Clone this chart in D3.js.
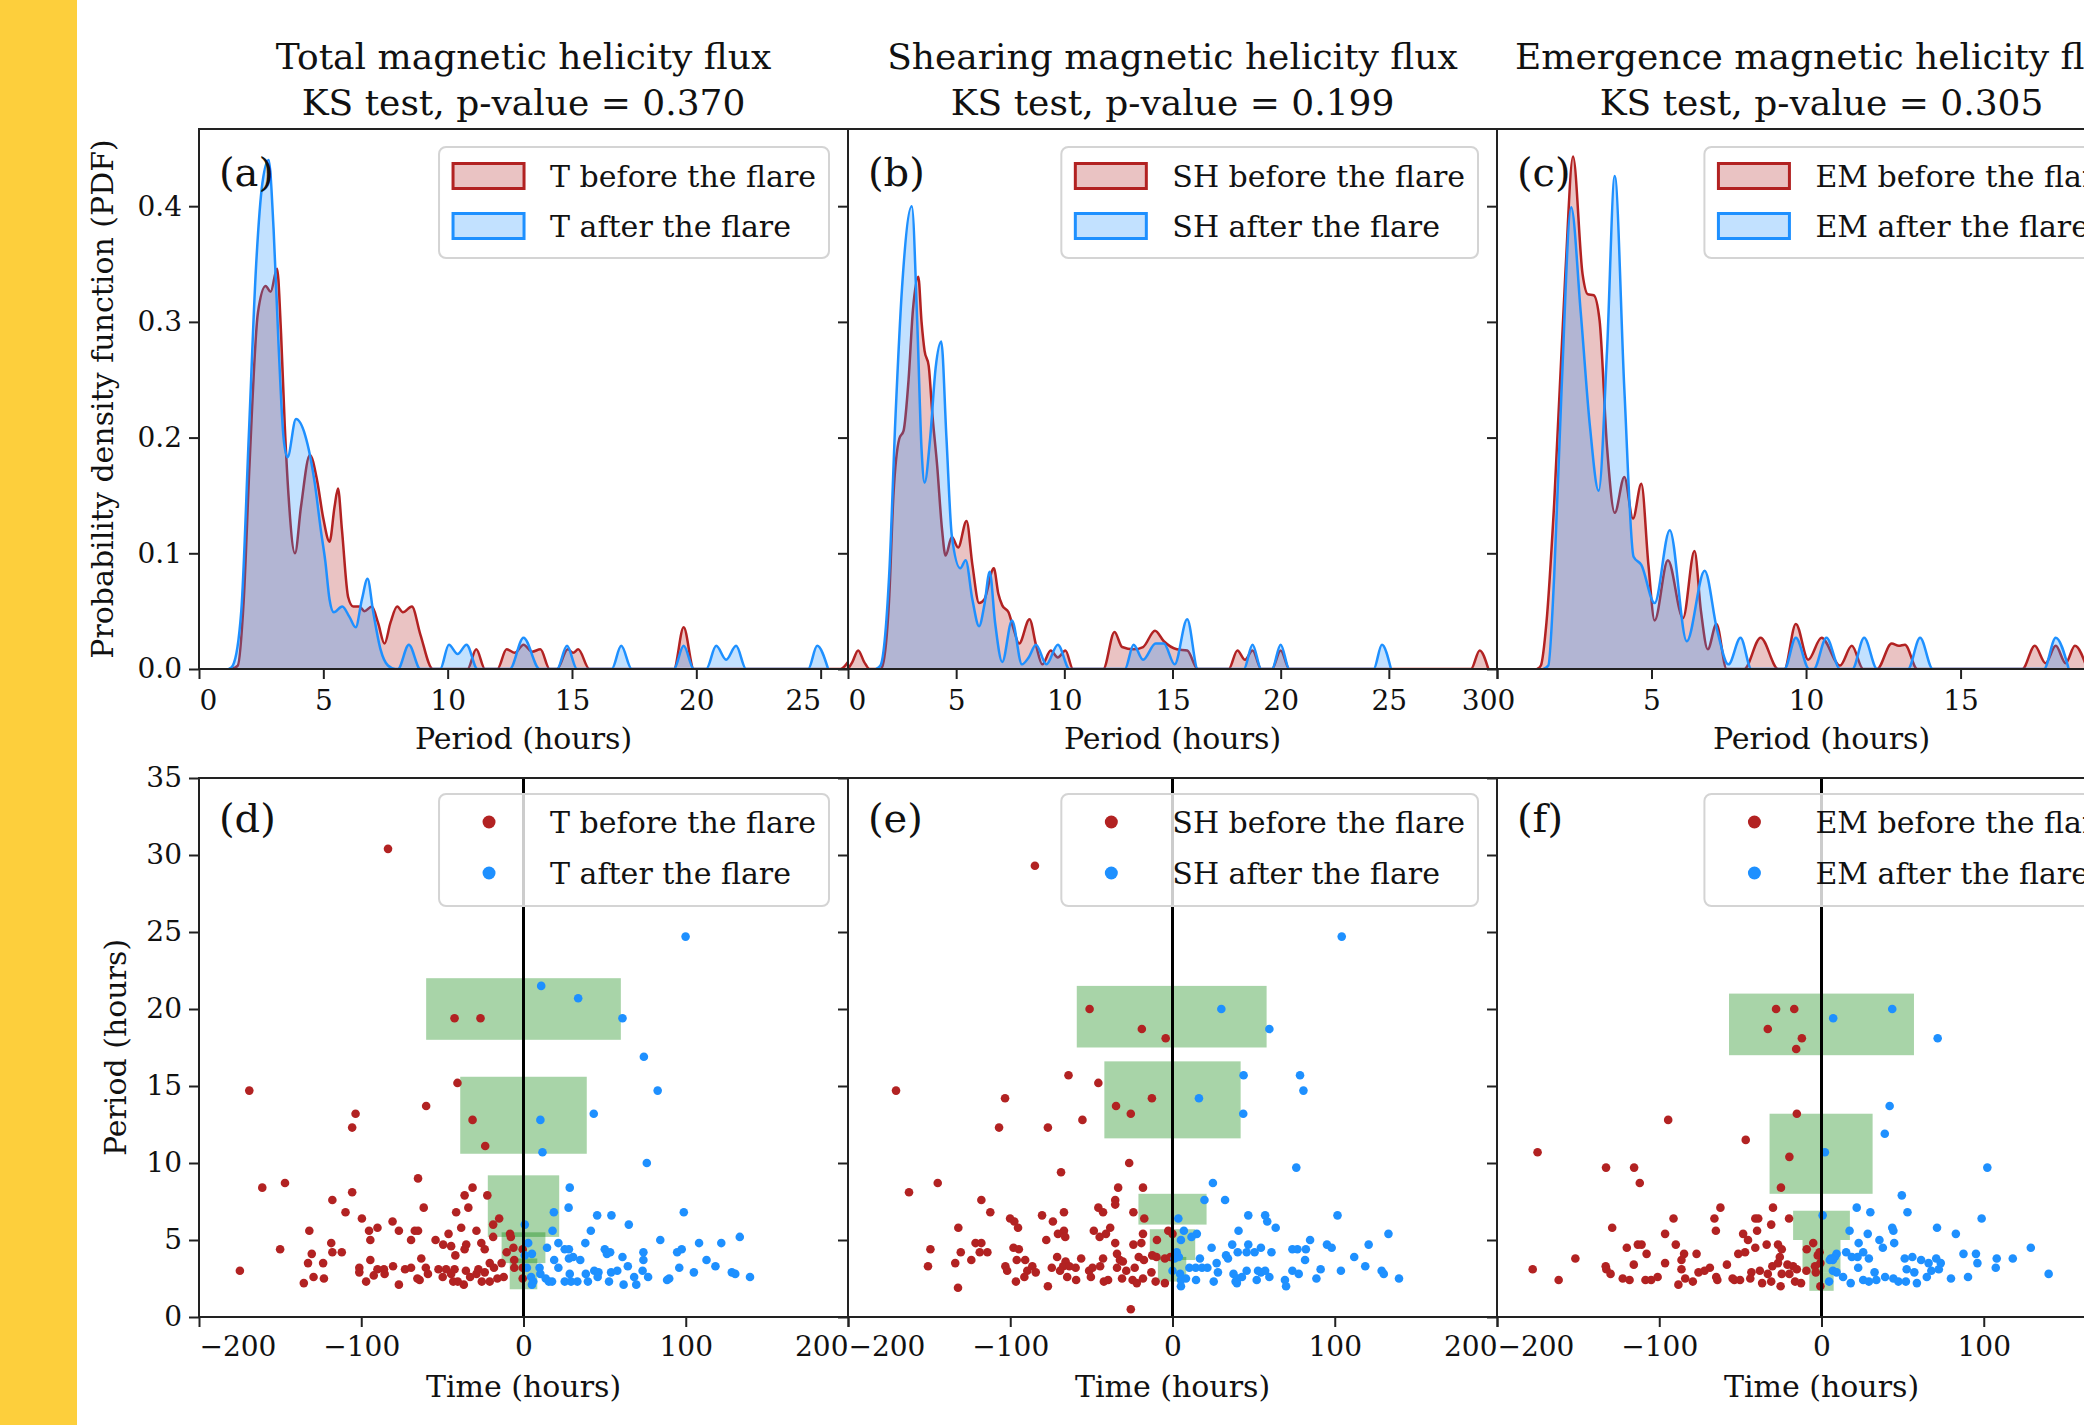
<!DOCTYPE html>
<html>
<head>
<meta charset="utf-8">
<title>Helicity flux oscillation periods</title>
<script src="https://d3js.org/d3.v7.min.js"></script>
<style>
  body { margin: 0; background: #fff; }
  svg { display: block; font-family: "DejaVu Serif", serif; }
</style>
</head>
<body>
<svg id="chart" width="2084" height="1425"></svg>
<script>
// ---- text ----
const titles = ["Total magnetic helicity flux", "Shearing magnetic helicity flux", "Emergence magnetic helicity flux"];
const pValues = ["0.370", "0.199", "0.305"];
const prefixes = ["T", "SH", "EM"];
const topLetters = ["(a)", "(b)", "(c)"];
const botLetters = ["(d)", "(e)", "(f)"];

// ---- axis ticks ----
const periodMax = [26.1, 30, 21];
const pdfTicks = [0, 0.1, 0.2, 0.3, 0.4];
const periodTicks = [0, 5, 10, 15, 20, 25, 30, 35];
const timeTicks = [-200, -100, 0, 100, 200];

// ---- PDF curves: [period, density] ----
const pdfTBefore = [[1.3,0],[1.56,0.003],[1.8,0.06],[2.03,0.176],[2.37,0.308],[2.68,0.331],[2.88,0.326],[3.14,0.346],[3.3,0.29],[3.45,0.21],[3.6,0.15],[3.86,0.1],[4.1,0.14],[4.46,0.185],[4.75,0.163],[5.0,0.13],[5.25,0.11],[5.45,0.14],[5.59,0.156],[5.75,0.12],[6.0,0.062],[6.2,0.054],[6.45,0.054],[6.65,0.05],[6.95,0.054],[7.2,0.04],[7.46,0.022],[7.7,0.04],[7.97,0.054],[8.2,0.049],[8.56,0.054],[8.9,0.03],[9.4,0],
  [10.8,0],[11.15,0.017],[11.5,0],[12.0,0],[12.37,0.017],[12.7,0.014],[13.05,0.021],[13.4,0.015],[13.73,0.017],[14.1,0],[14.4,0],[14.83,0.017],[15.05,0.014],[15.25,0.017],[15.7,0],[19.1,0],[19.49,0.036],[19.9,0],[25.8,0],[26.1,0.006]];
const pdfTAfter = [[1.2,0],[1.36,0.003],[1.7,0.05],[2.0,0.2],[2.3,0.35],[2.55,0.42],[2.8,0.44],[3.0,0.38],[3.2,0.28],[3.4,0.2],[3.56,0.183],[3.9,0.216],[4.27,0.202],[4.66,0.16],[4.9,0.12],[5.08,0.093],[5.25,0.06],[5.42,0.049],[5.76,0.054],[6.05,0.045],[6.3,0.036],[6.55,0.06],[6.78,0.078],[7.0,0.05],[7.3,0.017],[7.6,0.003],[7.9,0],
  [8.0,0],[8.44,0.021],[8.9,0],[9.7,0],[10.05,0.021],[10.4,0.013],[10.76,0.021],[11.2,0],[12.5,0],[13.05,0.027],[13.7,0],[14.4,0],[14.8,0.02],[15.2,0],[16.6,0],[16.98,0.02],[17.4,0],[19.1,0],[19.49,0.02],[19.9,0],[20.4,0],[20.8,0.02],[21.2,0.008],[21.6,0.02],[22.0,0],[24.5,0],[24.86,0.02],[25.3,0]];
const pdfSHBefore = [[0,0],[0.2,0.006],[0.47,0.016],[0.75,0.006],[1.0,0],[1.5,0],[1.6,0.003],[1.9,0.06],[2.1,0.15],[2.37,0.199],[2.57,0.206],[2.8,0.25],[3.0,0.31],[3.25,0.339],[3.4,0.3],[3.54,0.275],[3.73,0.262],[3.9,0.22],[4.12,0.176],[4.35,0.12],[4.51,0.098],[4.8,0.114],[5.09,0.105],[5.48,0.128],[5.75,0.09],[6.06,0.057],[6.3,0.06],[6.74,0.087],[6.95,0.065],[7.13,0.055],[7.42,0.049],[7.65,0.035],[7.91,0.022],[8.39,0.043],[8.7,0.02],[8.98,0.004],[9.37,0.016],[9.7,0.01],[10.05,0.016],[10.4,0],
  [11.8,0],[12.32,0.032],[12.67,0.019],[13.2,0.017],[13.64,0.019],[14.19,0.033],[14.6,0.024],[15.2,0.017],[15.68,0.016],[16.17,0],[17.6,0],[18.0,0.016],[18.35,0.008],[18.7,0.016],[19.1,0],[19.6,0],[20.0,0.016],[20.4,0],[28.8,0],[29.2,0.016],[29.6,0]];
const pdfSHAfter = [[1.3,0],[1.5,0.003],[1.9,0.08],[2.2,0.22],[2.5,0.33],[2.95,0.4],[3.2,0.3],[3.4,0.19],[3.54,0.161],[3.8,0.2],[4.05,0.26],[4.31,0.283],[4.55,0.2],[4.8,0.115],[5.19,0.087],[5.44,0.094],[5.75,0.06],[6.06,0.037],[6.3,0.055],[6.55,0.084],[6.8,0.04],[7.13,0.006],[7.58,0.042],[8.04,0.004],[8.35,0.01],[8.69,0.021],[9.17,0.004],[9.7,0.021],[10.24,0],
  [12.8,0],[13.2,0.021],[13.64,0.008],[14.22,0.022],[14.6,0.022],[15.1,0.004],[15.68,0.043],[16.17,0],[18.3,0],[18.7,0.021],[19.1,0],[19.6,0],[20.0,0.021],[20.4,0],[24.3,0],[24.68,0.021],[25.1,0]];
const pdfEMBefore = [[1.3,0],[1.42,0.003],[1.6,0.04],[1.85,0.143],[2.21,0.341],[2.46,0.443],[2.77,0.341],[2.93,0.324],[3.13,0.323],[3.32,0.301],[3.56,0.192],[3.81,0.135],[4.12,0.166],[4.4,0.13],[4.67,0.16],[4.9,0.09],[5.1,0.042],[5.53,0.094],[6.02,0.044],[6.39,0.102],[6.6,0.05],[6.82,0.017],[7.1,0.039],[7.43,0],
  [8.0,0],[8.53,0.027],[9.1,0],[9.3,0],[9.67,0.039],[10.07,0.008],[10.5,0.027],[11.1,0.003],[11.48,0.02],[11.85,0],[12.3,0],[12.77,0.022],[13.0,0.02],[13.2,0.021],[13.6,0],[17.0,0],[17.4,0.02],[17.75,0.005],[18.08,0.02],[18.4,0.005],[18.7,0.02],[19.1,0]];
const pdfEMAfter = [[1.5,0],[1.66,0.003],[1.85,0.08],[2.09,0.242],[2.4,0.399],[2.71,0.308],[3.01,0.209],[3.29,0.154],[3.56,0.275],[3.81,0.426],[4.12,0.242],[4.42,0.097],[4.67,0.09],[5.1,0.057],[5.59,0.12],[6.14,0.024],[6.72,0.085],[7.12,0.034],[7.49,0.004],[7.88,0.027],[8.23,0],
  [9.3,0],[9.67,0.027],[10.1,0],[10.25,0],[10.66,0.027],[11.1,0],[11.5,0],[11.88,0.027],[12.3,0],[13.3,0],[13.69,0.027],[14.1,0],[17.7,0],[18.08,0.027],[18.5,0]];

// ---- scatter points: [time, period] ----
const ptsTBefore = [[-83.5,30.4],[-42.5,19.4],[-26.5,19.4],[-169,14.7],[-40.7,15.2],[-60,13.7],[-103.5,13.2],[-105.6,12.3],[-31.4,12.8],[-23.6,11.1],[-65,9.0],[-161,8.4],[-147,8.7],[-105.6,8.1],[-31.4,8.4],[-36.3,7.9],[-22.3,7.9],[-117.8,7.6],[-61.5,7.1],[-34,7.1],[-109.7,6.8],[-41.5,6.8],[-99.6,6.4],[-80.7,6.2],[-15,6.4],[-18.7,6.0],[-132,5.6],[-95.2,5.6],[-90,5.8],[-76.8,5.6],[-67,5.6],[-65,5.6],[-38.4,5.8],[-29,5.6],[-150,4.4],[-118.5,4.8],[-94.4,5.0],[-69.3,5.0],[-54.2,5.0],[-46.2,5.4],[-49.5,4.7],[-44.6,4.6],[-35.3,4.7],[-26,4.8],[-18.7,5.2],[-8.3,5.4],[-7.8,5.2],[-117.8,4.2],[-112,4.2],[-130.5,4.1],[-42,4.0],[-36.3,4.4],[-23.9,4.4],[-10.4,4.2],[-6.2,4.5],[-0.5,4.4],[-132.8,3.5],[-123.5,3.5],[-94.4,3.7],[-63,3.8],[-20.8,3.5],[-13.5,3.5],[-18.2,3.2],[-174.8,3.0],[-101.2,3.2],[-90,3.1],[-86,3.1],[-80.4,3.3],[-73,3.1],[-69.3,3.2],[-60.2,3.2],[-52.4,3.1],[-47.7,3.1],[-42.5,3.1],[-35.5,3.0],[-27.8,3.1],[-23.9,2.9],[-5.7,3.2],[-0.5,3.2],[-129.4,2.6],[-123,2.5],[-101.2,2.9],[-92.3,2.7],[-85.6,2.8],[-65.4,2.5],[-58.9,2.8],[-49.8,2.6],[-44.6,2.8],[-32.9,2.6],[-29,2.8],[-12.2,2.6],[-16.1,2.5],[-0.5,2.5],[-135.4,2.2],[-97,2.3],[-76.8,2.1],[-64,2.4],[-43.3,2.3],[-36.8,2.1],[-25.7,2.3],[-20.8,2.3],[-40.5,2.3],[-5.7,3.7]];
const ptsTAfter = [[99.9,24.7],[10.9,21.5],[33.7,20.7],[61,19.4],[74.2,16.9],[82.7,14.7],[43.3,13.2],[10.4,12.8],[11.7,10.7],[76,10.0],[28.5,8.4],[27.8,7.1],[18.7,6.8],[45.4,6.6],[54.2,6.6],[98.8,6.8],[64.9,6.0],[41.5,5.6],[17.9,5.6],[0.8,6.0],[84.3,5.0],[133.3,5.2],[108.2,4.8],[121.9,4.8],[97.5,4.4],[94.7,4.2],[2.9,4.8],[14.5,4.5],[21.5,4.8],[25.4,4.4],[28,4.4],[38.1,4.8],[50.1,4.4],[51.4,4.1],[53.4,4.2],[73.9,4.2],[0.8,4.0],[5.2,4.1],[18.9,3.7],[28,3.8],[30.6,3.9],[35,3.7],[61,3.9],[73.9,3.7],[112.8,3.7],[118.3,3.3],[2.1,3.2],[9.9,3.2],[21.5,3.2],[64.3,3.3],[96,3.2],[73.4,3.0],[4.7,2.6],[10.4,2.8],[13.7,2.5],[28.5,2.8],[38.4,2.8],[43.6,3.0],[46.2,2.9],[54,2.9],[57.8,3.0],[68.2,2.6],[76.8,2.6],[105,2.9],[128.4,2.9],[130.5,2.8],[139.6,2.6],[89.8,2.5],[88.5,2.4],[6,2.3],[17.6,2.3],[25.4,2.3],[29.3,2.3],[33.2,2.3],[39.7,2.3],[45.7,2.6],[52.7,2.3],[61.7,2.1],[69.5,2.1],[5.2,2.1],[15.6,2.3]];
const ptsSHBefore = [[-84.8,29.3],[-51.1,20.0],[-18.9,18.7],[-4.2,18.1],[-64.1,15.7],[-45.7,15.2],[-12.7,14.2],[-34.8,13.7],[-25.7,13.2],[-55.5,12.8],[-170.4,14.7],[-103.2,14.2],[-106.9,12.3],[-76.8,12.3],[-26.7,10.0],[-68.7,9.4],[-144.7,8.7],[-162.4,8.1],[-33.5,8.4],[-18.2,8.4],[-117.8,7.6],[-35.3,7.6],[-35.3,7.3],[-112.3,6.8],[-66.9,6.8],[-45.7,7.1],[-42.8,6.8],[-24.1,6.8],[-17.4,6.4],[-80.4,6.6],[-100.1,6.4],[-97.5,6.2],[-73.7,6.2],[-95.2,5.8],[-132,5.8],[-38.4,5.8],[-48.5,5.6],[-66.9,5.6],[-70.6,5.4],[-66.1,5.2],[-44.9,5.2],[-41,5.4],[-18.2,5.4],[-2.6,5.6],[0,5.4],[-77.8,5.0],[-121.4,4.8],[-117.8,4.8],[-35.3,4.8],[-24.1,4.7],[-19.2,4.8],[-9.6,5.0],[-149.2,4.4],[-98,4.5],[-94.7,4.4],[-130.5,4.2],[-118.8,4.2],[-114.1,4.2],[-34.2,4.1],[-12.5,4.0],[-9.9,3.9],[-4.7,3.8],[-1.3,3.9],[-124,3.7],[-96,3.7],[-90.8,3.7],[-71.1,3.9],[-65.9,3.6],[-56.3,3.8],[-42.8,3.8],[-32.4,3.7],[-20.8,3.9],[-17.6,3.7],[-30.6,3.6],[-150.7,3.3],[-133.9,3.5],[-103,3.3],[-86.4,3.3],[-74.4,3.2],[-67.4,3.3],[-63.6,3.3],[-59.7,3.2],[-51.4,3.0],[-49.3,3.2],[-44.6,3.3],[-34.2,3.2],[-28.5,3.0],[-23.3,3.2],[-13,2.9],[-101.9,3.0],[-89.5,3.0],[-84.3,2.9],[-91.3,2.6],[-69.3,3.0],[-64.9,2.6],[-59.4,2.4],[-50.3,2.6],[-42.3,2.3],[-39.7,2.4],[-31.1,2.5],[-24.6,2.4],[-22,2.2],[-18.2,2.5],[-10.4,2.3],[-4.7,2.2],[-96.5,2.3],[-76.8,2.0],[-132.2,1.9],[-25.7,0.5]];
const ptsSHAfter = [[104.3,24.7],[30.1,20.0],[59.7,18.7],[43.8,15.7],[78.6,15.7],[80.7,14.7],[16.3,14.2],[43.6,13.2],[76.3,9.7],[24.9,8.7],[19.7,7.6],[32.4,7.6],[3.6,6.4],[46.7,6.6],[57.1,6.6],[58.4,6.2],[63.6,5.8],[40.7,5.6],[101.7,6.6],[7,5.6],[15,5.4],[11.7,5.2],[5.2,5.0],[84.8,5.0],[133.1,5.4],[120.9,4.7],[95.2,4.7],[98.1,4.5],[24.1,4.5],[36.8,4.7],[46.7,4.7],[54.5,4.5],[40.2,4.2],[45.7,4.2],[50.6,4.2],[61,4.2],[73.9,4.4],[77,4.4],[82.2,4.4],[33,4.0],[34.2,3.8],[2.6,4.2],[1.3,3.8],[3.9,3.9],[16.9,3.8],[27.2,3.5],[81.7,3.7],[112,3.9],[118.8,3.3],[0,3.0],[4.7,2.8],[10.4,3.2],[14.3,3.2],[18.2,3.2],[21.5,3.2],[28,2.9],[37.6,2.8],[45.7,3.0],[52.7,3.0],[54.5,2.9],[57.1,3.0],[73.9,3.0],[77.8,2.8],[91.3,3.1],[103.8,3.0],[128.9,3.0],[130.2,2.8],[5.2,2.4],[8.3,2.5],[14.5,2.4],[25.4,2.3],[38.9,2.3],[40.2,2.5],[42.8,2.6],[51.9,2.4],[59.7,2.6],[69.3,2.4],[70,2.0],[88.7,2.5],[139.6,2.5],[5.2,2.0],[39.7,2.2]];
const ptsEMBefore = [[-28,20.0],[-16.8,20.0],[-33.1,18.7],[-12.1,18.1],[-15.6,17.4],[-15.2,13.2],[-94.5,12.8],[-46.7,11.5],[-175,10.7],[-19.8,10.4],[-132.8,9.7],[-115.5,9.7],[-112,8.7],[-25,8.4],[-62.3,7.1],[-29.9,7.1],[-91.2,6.4],[-66,6.4],[-40.8,6.4],[-39,6.4],[-20,6.4],[-31,6.0],[-129,5.8],[-65.1,5.6],[-39.7,5.6],[-96.4,5.4],[-48.3,5.4],[-45.3,5.0],[-5.1,4.8],[-120,4.5],[-113.2,4.7],[-110.9,4.7],[-89.8,4.7],[-33.8,4.7],[-26.8,4.7],[-40.8,4.5],[-24.5,4.4],[-9.1,4.4],[-151.7,3.8],[-107.8,4.1],[-84.7,4.1],[-77,4.1],[-51.3,4.1],[-47.1,4.2],[-25.7,3.9],[-2.3,4.0],[-1.2,4.2],[-178,3.1],[-133,3.3],[-115.7,3.4],[-96.4,3.5],[-86.3,3.7],[-58.3,3.4],[-30.3,3.3],[-26.8,3.5],[-21,3.4],[-17.5,3.3],[-15.2,3.1],[-4,3.3],[-0.7,3.5],[-132.6,3.1],[-130,2.8],[-86.3,3.1],[-75.8,2.9],[-68.8,3.2],[-72.1,3.0],[-64.9,2.6],[-54.8,2.5],[-43.2,2.9],[-38,3.0],[-33.1,2.8],[-24.5,2.8],[-19.8,2.8],[-9.3,3.0],[-3.5,2.9],[-122.5,2.5],[-118.3,2.4],[-108.5,2.4],[-105,2.4],[-101,2.6],[-84,2.5],[-79.3,2.3],[-64.2,2.4],[-53.7,2.4],[-50.2,2.4],[-43.9,2.5],[-36.6,2.2],[-31,2.3],[-25.2,2.0],[-16.3,2.3],[-12.6,2.2],[-0.7,2.0],[-162,2.4],[-88.2,2.1]];
const ptsEMAfter = [[43.6,20.0],[7.2,19.4],[71.6,18.1],[42,13.7],[39,11.9],[2.1,10.7],[102.2,9.7],[49.5,7.9],[21.7,7.1],[30.1,6.8],[53,6.8],[0.7,6.6],[98.7,6.4],[17.3,5.6],[43.6,5.8],[44.3,5.6],[71.2,5.8],[82.8,5.4],[28.5,5.4],[35.7,5.0],[37.8,4.5],[44.8,4.8],[22.9,4.8],[129,4.5],[87.5,4.1],[95.2,4.1],[108,3.8],[117.9,3.8],[96.1,3.5],[107.4,3.2],[140,2.8],[15.2,4.2],[18.7,3.9],[22.2,3.9],[25.7,4.2],[29.2,3.8],[9.3,4.1],[8.2,3.9],[5.8,3.8],[7,3.7],[5.1,3.7],[51.3,3.8],[56,3.9],[61.4,3.7],[66,3.5],[70.7,3.8],[73.5,3.5],[72.3,3.1],[67.7,3.0],[52.5,3.1],[57.2,2.9],[7,3.0],[9.3,2.9],[13.3,2.6],[22.6,3.2],[32.7,2.9],[39.2,2.6],[64.9,2.6],[90.3,2.6],[4.7,2.3],[18,2.2],[25.7,2.4],[29.2,2.3],[33.8,2.4],[44.3,2.5],[47.4,2.3],[52,2.3],[58.8,2.2],[79.8,2.5]];

// ---- shaded boxes: [time0, time1, period0, period1] ----
const boxesT = [[-60,60,18,22],[-39,39,10.6,15.6],[-22,22,5.2,9.2],[-13.5,13.5,3.5,5.5],[-8.5,8.5,1.8,3.8]];
const boxesSH = [[-59,58,17.5,21.5],[-42,42,11.6,16.6],[-21,21,6.0,8.0],[-14,14,3.7,5.7],[-9,8.5,2.3,3.9]];
const boxesEM = [[-57,57,17,21],[-32,31.5,8,13.2],[-17.5,17.5,5,6.9],[-11.7,11.7,2.9,5],[-7.5,7.5,1.7,2.9]];

const pdfBefore = [pdfTBefore, pdfSHBefore, pdfEMBefore];
const pdfAfter = [pdfTAfter, pdfSHAfter, pdfEMAfter];
const ptsBefore = [ptsTBefore, ptsSHBefore, ptsEMBefore];
const ptsAfter = [ptsTAfter, ptsSHAfter, ptsEMAfter];
const boxes = [boxesT, boxesSH, boxesEM];

// ---- layout ----
const red = "#b22222", blue = "#1e90ff";
const pageW = 2084;
const panelX = [199, 848, 1497], panelW = 649;
const topY = 129, topH = 540, botY = 778, botH = 539;

const svg = d3.select("#chart");
svg.append("rect").attr("x", 0).attr("y", 0).attr("width", 77).attr("height", 1425).attr("fill", "#fdcf3c");

// tick labels: first one starts at its tick, last one ends at it;
// labels whose tick falls off the page are dropped
function edgeLabels(axisG, scale, x0) {
  const t = axisG.selectAll(".tick text");
  const n = t.size();
  t.attr("text-anchor", (d, k) => k === 0 ? "start" : (k === n - 1 ? "end" : "middle"));
  t.filter(d => x0 + scale(d) > pageW).remove();
}

function styleAxis(g) {
  g.select(".domain").remove();
  g.selectAll(".tick line").attr("stroke", "#222").attr("stroke-width", 2);
  g.selectAll(".tick text").attr("fill", "#111").attr("font-family", "DejaVu Serif").attr("font-size", 28);
}

function legend(g, i, kind) {
  const names = [prefixes[i] + " before the flare", prefixes[i] + " after the flare"];
  const rowsY = kind === "pdf" ? [47, 97] : [44, 95];
  const lg = g.append("g");
  const frame = lg.append("rect");
  const texts = lg.selectAll("text").data(names).join("text")
    .attr("y", (d, k) => rowsY[k] + 11)
    .attr("font-size", 30).attr("fill", "#111").text(d => d);
  const tw = d3.max(texts.nodes(), n => n.getComputedTextLength());
  const right = panelW - 19;
  const left = right - (111 + tw + 13);
  texts.attr("x", left + 111);
  frame.attr("x", left).attr("y", kind === "pdf" ? 18 : 16)
    .attr("width", right - left).attr("height", kind === "pdf" ? 111 : 112)
    .attr("rx", 7).attr("fill", "#fff").attr("fill-opacity", 0.8)
    .attr("stroke", "#d4d4d4").attr("stroke-width", 2);
  [red, blue].forEach((c, k) => {
    if (kind === "pdf") {
      lg.append("rect").attr("x", left + 14).attr("y", rowsY[k] - 12.5)
        .attr("width", 71).attr("height", 25)
        .attr("fill", c).attr("fill-opacity", 0.27).attr("stroke", c).attr("stroke-width", 3);
    } else {
      lg.append("circle").attr("cx", left + 50).attr("cy", rowsY[k]).attr("r", 6.5).attr("fill", c);
    }
  });
}

for (let i = 0; i < 3; i++) {
  const cx = panelX[i] + panelW / 2;
  // titles
  svg.append("text").attr("x", cx).attr("y", 69).attr("text-anchor", "middle")
    .attr("font-size", 36).attr("fill", "#111").text(titles[i]);
  svg.append("text").attr("x", cx).attr("y", 115).attr("text-anchor", "middle")
    .attr("font-size", 36).attr("fill", "#111").text("KS test, p-value = " + pValues[i]);

  // ---------- PDF panel ----------
  const gt = svg.append("g").attr("transform", `translate(${panelX[i]},${topY})`);
  const x = d3.scaleLinear().domain([0, periodMax[i]]).range([0, panelW]);
  const y = d3.scaleLinear().domain([0, 0.4667]).range([topH, 0]);
  gt.append("clipPath").attr("id", "clipT" + i).append("rect").attr("width", panelW).attr("height", topH);
  const body = gt.append("g").attr("clip-path", `url(#clipT${i})`);
  const area = d3.area().x(d => x(d[0])).y0(y(0)).y1(d => y(d[1])).curve(d3.curveMonotoneX);
  const line = d3.line().x(d => x(d[0])).y(d => y(d[1])).curve(d3.curveMonotoneX);
  [[pdfBefore[i], red], [pdfAfter[i], blue]].forEach(([data, c]) => {
    body.append("path").datum(data).attr("d", area).attr("fill", c).attr("fill-opacity", 0.27);
    body.append("path").datum(data).attr("d", line).attr("fill", "none")
      .attr("stroke", c).attr("stroke-width", 2.5).attr("stroke-linejoin", "round");
  });

  const xt = gt.append("g").attr("transform", `translate(0,${topH})`)
    .call(d3.axisBottom(x).tickValues(periodTicks.filter(v => v <= periodMax[i])).tickSize(10).tickPadding(11));
  styleAxis(xt); edgeLabels(xt, x, panelX[i]);
  const yt = gt.append("g").call(d3.axisLeft(y).tickValues(pdfTicks).tickSize(10).tickPadding(7)
    .tickFormat(i === 0 ? d3.format(".1f") : () => ""));
  styleAxis(yt);
  gt.append("rect").attr("width", panelW).attr("height", topH).attr("fill", "none")
    .attr("stroke", "#222").attr("stroke-width", 2);
  gt.append("text").attr("x", 20).attr("y", 57).attr("font-size", 40).attr("fill", "#111").text(topLetters[i]);
  legend(gt, i, "pdf");
  svg.append("text").attr("x", cx).attr("y", 749).attr("text-anchor", "middle")
    .attr("font-size", 30).attr("fill", "#111").text("Period (hours)");

  // ---------- scatter panel ----------
  const gb = svg.append("g").attr("transform", `translate(${panelX[i]},${botY})`);
  const tx = d3.scaleLinear().domain([-200, 200]).range([0, panelW]);
  const py = d3.scaleLinear().domain([0, 35]).range([botH, 0]);
  gb.append("clipPath").attr("id", "clipB" + i).append("rect").attr("width", panelW).attr("height", botH);
  const sb = gb.append("g").attr("clip-path", `url(#clipB${i})`);
  sb.selectAll("rect.box").data(boxes[i]).join("rect").attr("class", "box")
    .attr("x", d => tx(d[0])).attr("width", d => tx(d[1]) - tx(d[0]))
    .attr("y", d => py(d[3])).attr("height", d => py(d[2]) - py(d[3]))
    .attr("fill", "#008000").attr("fill-opacity", 0.34);
  sb.selectAll("circle.b").data(ptsBefore[i]).join("circle").attr("class", "b")
    .attr("cx", d => tx(d[0])).attr("cy", d => py(d[1])).attr("r", 4.3).attr("fill", red);
  sb.selectAll("circle.a").data(ptsAfter[i]).join("circle").attr("class", "a")
    .attr("cx", d => tx(d[0])).attr("cy", d => py(d[1])).attr("r", 4.3).attr("fill", blue);
  sb.append("line").attr("x1", tx(0)).attr("x2", tx(0)).attr("y1", 0).attr("y2", botH)
    .attr("stroke", "#000").attr("stroke-width", 3);

  const xb = gb.append("g").attr("transform", `translate(0,${botH})`)
    .call(d3.axisBottom(tx).tickValues(timeTicks).tickSize(10).tickPadding(9));
  styleAxis(xb); edgeLabels(xb, tx, panelX[i]);
  const yb = gb.append("g").call(d3.axisLeft(py).tickValues(periodTicks).tickSize(10).tickPadding(7)
    .tickFormat(i === 0 ? d3.format("d") : () => ""));
  styleAxis(yb);
  gb.append("rect").attr("width", panelW).attr("height", botH).attr("fill", "none")
    .attr("stroke", "#222").attr("stroke-width", 2);
  gb.append("text").attr("x", 20).attr("y", 54).attr("font-size", 40).attr("fill", "#111").text(botLetters[i]);
  legend(gb, i, "scatter");
  svg.append("text").attr("x", cx).attr("y", 1397).attr("text-anchor", "middle")
    .attr("font-size", 30).attr("fill", "#111").text("Time (hours)");
}

// y-axis titles
svg.append("text").attr("transform", `translate(113,${topY + topH / 2}) rotate(-90)`)
  .attr("text-anchor", "middle").attr("font-size", 30).attr("fill", "#111")
  .text("Probability density function (PDF)");
svg.append("text").attr("transform", `translate(126,${botY + botH / 2}) rotate(-90)`)
  .attr("text-anchor", "middle").attr("font-size", 30).attr("fill", "#111")
  .text("Period (hours)");
</script>
</body>
</html>
